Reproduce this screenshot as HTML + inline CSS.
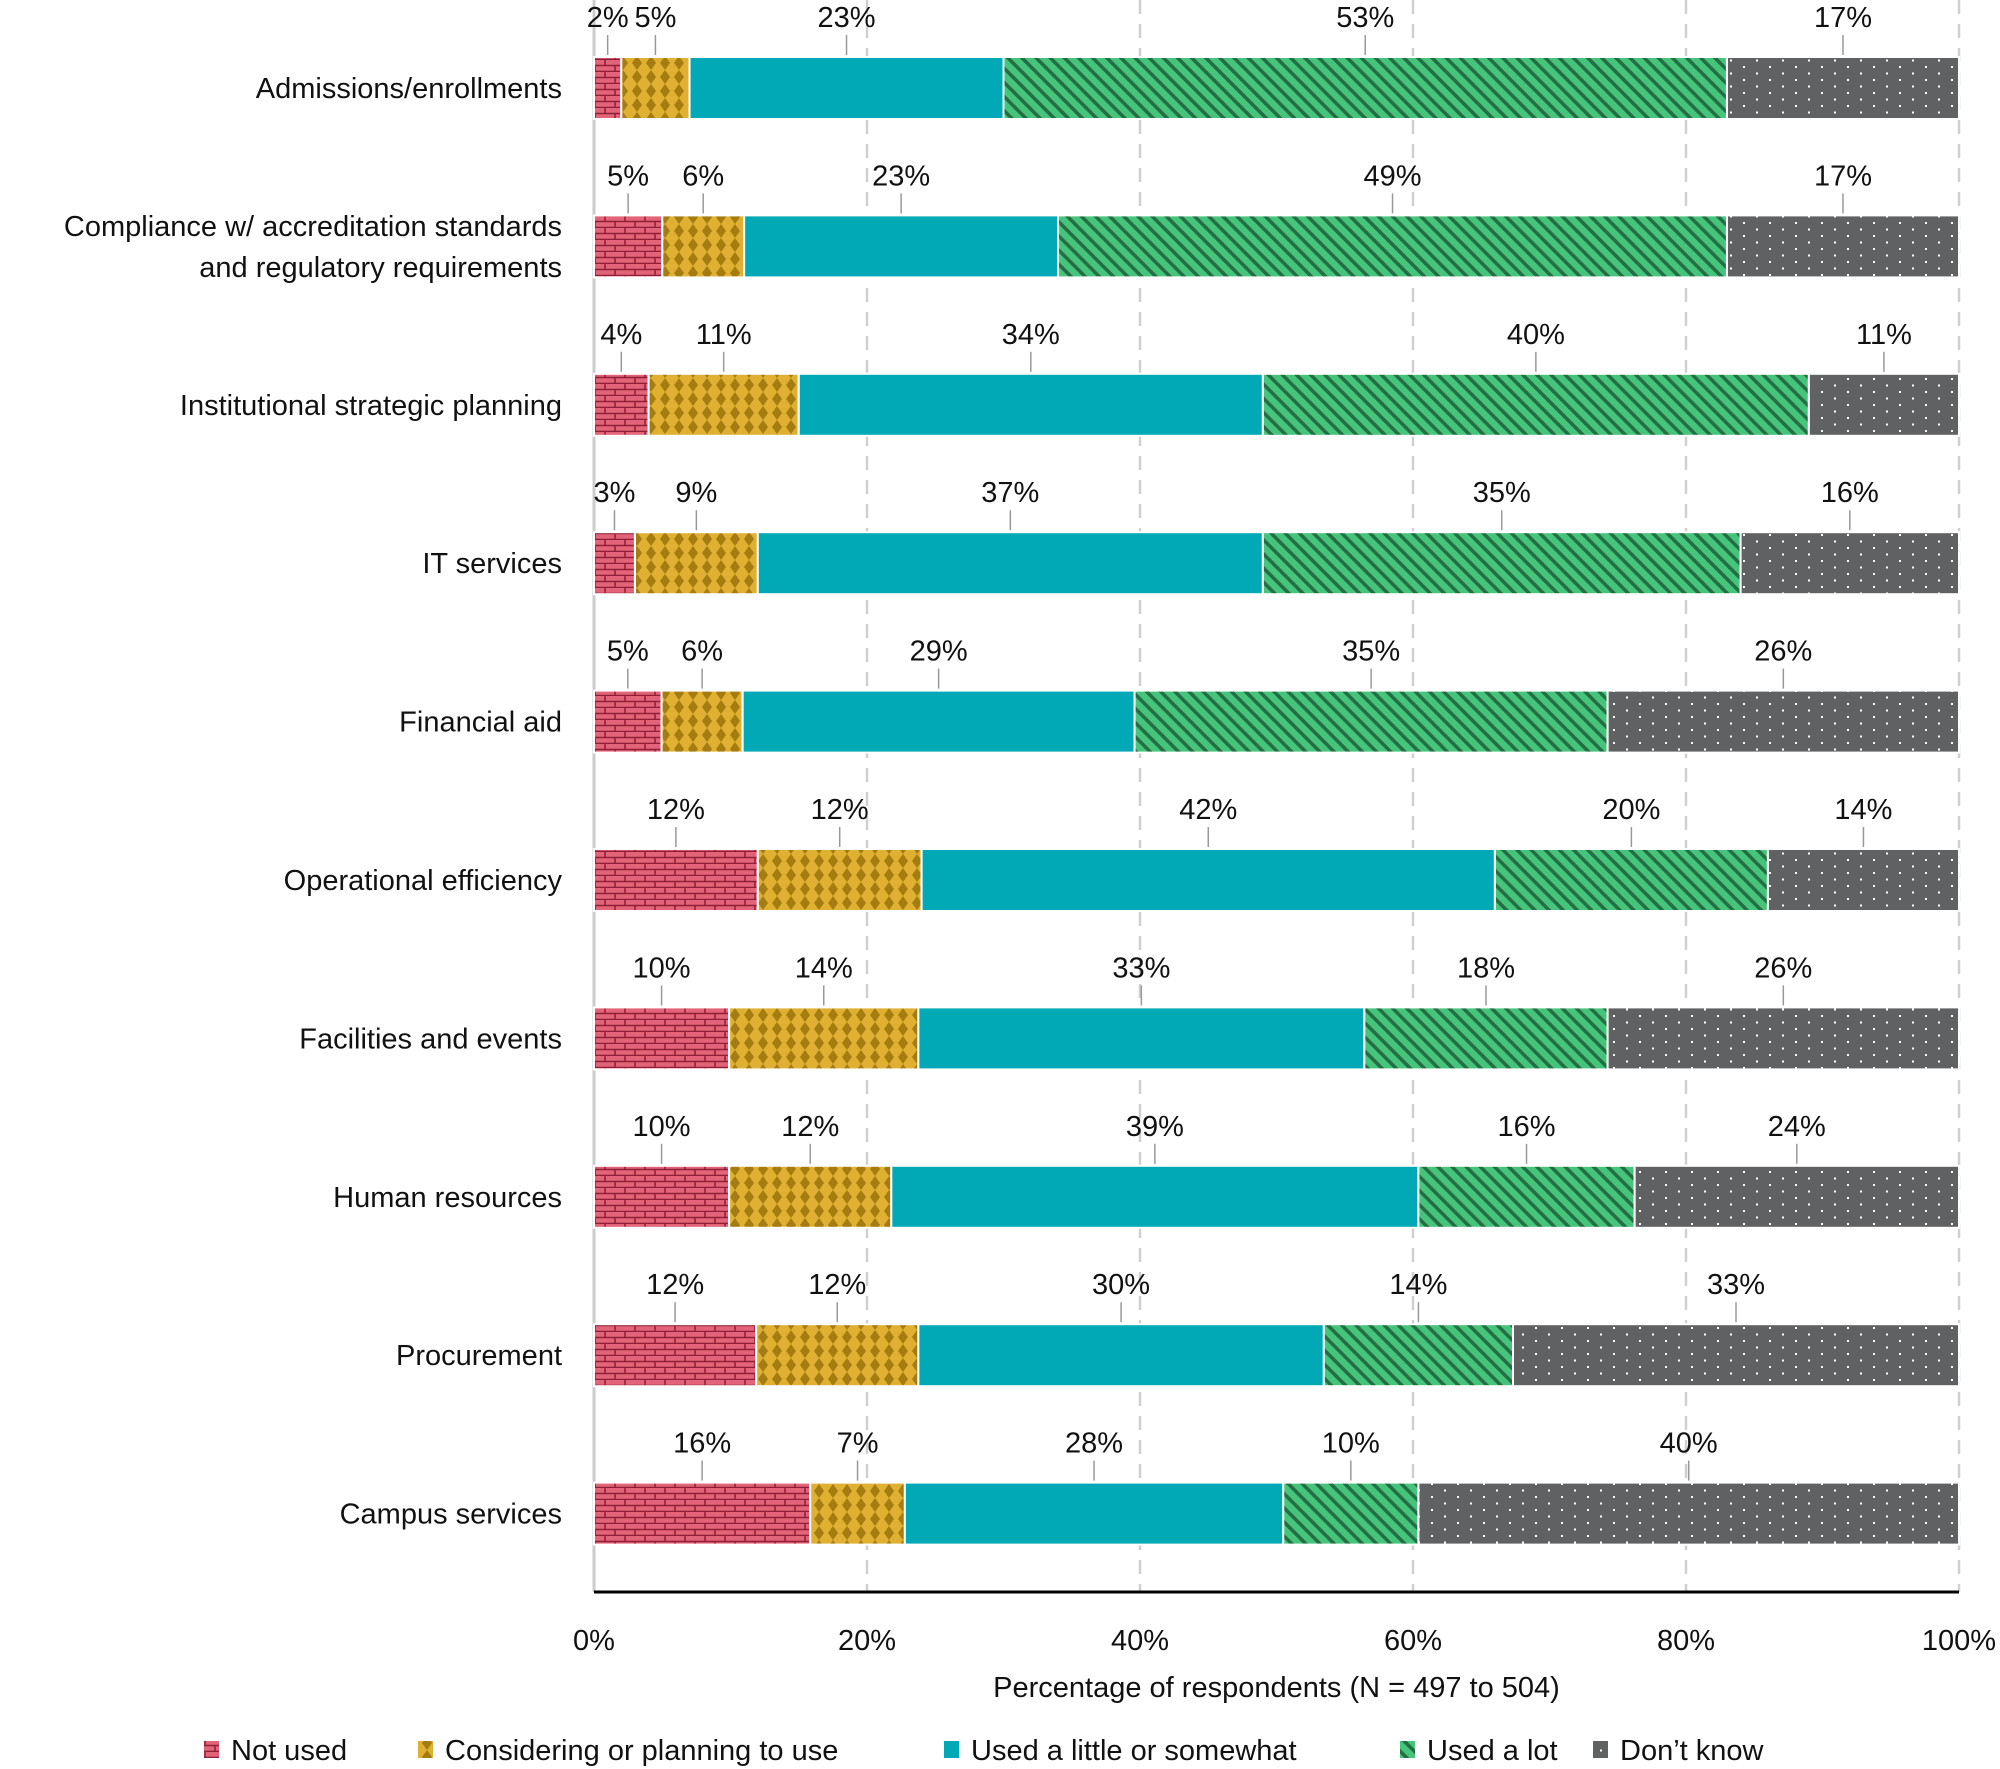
<!DOCTYPE html>
<html><head><meta charset="utf-8"><style>
html,body{margin:0;padding:0;background:#fff;}
svg{display:block;font-family:"Liberation Sans",sans-serif;}
</style></head><body>
<svg id="chart" width="2000" height="1769" viewBox="0 0 2000 1769" xmlns="http://www.w3.org/2000/svg">
<defs>
<pattern id="p0" width="20" height="12" patternUnits="userSpaceOnUse">
<rect width="20" height="12" fill="#e36379"/>
<path d="M0 5.5H20M0 11.5H20M5 0V6M15 6V12" stroke="#8e1f36" stroke-width="1.5"/>
</pattern>
<pattern id="p1" width="14" height="14" patternUnits="userSpaceOnUse">
<rect width="14" height="14" fill="#e0b032"/>
<path d="M7 0L12 7L7 14L2 7Z" fill="#a57c10"/>
</pattern>
<pattern id="p3" width="10" height="10" patternUnits="userSpaceOnUse" patternTransform="rotate(-45)">
<rect width="10" height="10" fill="#46c47c"/>
<rect width="3.5" height="10" fill="#236e42"/>
</pattern>
<pattern id="p4" width="26" height="13" patternUnits="userSpaceOnUse">
<rect width="26" height="13" fill="#606163"/>
<rect x="1" y="1" width="2" height="2" fill="#fff"/>
<rect x="14" y="7.5" width="2" height="2" fill="#fff"/>
</pattern>
</defs>
<g id="grid"></g><g id="bars"></g><g id="labels"></g>
</svg>
<script>
const categories=["Admissions/enrollments","Compliance w/ accreditation standards|and regulatory requirements","Institutional strategic planning","IT services","Financial aid","Operational efficiency","Facilities and events","Human resources","Procurement","Campus services"];
const seriesNames=["Not used","Considering or planning to use","Used a little or somewhat","Used a lot","Don\u2019t know"];
const notUsed=[2,5,4,3,5,12,10,10,12,16];
const considering=[5,6,11,9,6,12,14,12,12,7];
const usedLittle=[23,23,34,37,29,42,33,39,30,28];
const usedLot=[53,49,40,35,35,20,18,16,14,10];
const dontKnow=[17,17,11,16,26,14,26,24,33,40];
const xTicks=[0,20,40,60,80,100];
const series=[notUsed,considering,usedLittle,usedLot,dontKnow];
const fills=["url(#p0)","url(#p1)","#00a9b5","url(#p3)","url(#p4)"];
const NS="http://www.w3.org/2000/svg";
const X0=594,X1=1959,Y0=88,STEP=158.4,BH=62,AXY=1592;
const x=v=>X0+(X1-X0)*v/100;
const y=i=>Y0+STEP*i;
function mk(t,a,p){const e=document.createElementNS(NS,t);for(const k in a)e.setAttribute(k,a[k]);p.appendChild(e);return e;}
const grid=document.getElementById('grid'),bars=document.getElementById('bars'),labels=document.getElementById('labels');
xTicks.forEach(t=>{
  if(t>0){const l=mk('line',{x1:x(t),x2:x(t),y1:0,y2:AXY,stroke:'#d0d0d0','stroke-width':2.5,'stroke-dasharray':'14 10'},grid);
  
  }
  const tx=mk('text',{x:x(t),y:1650,'text-anchor':'middle','font-size':29,fill:'#111'},labels);
  tx.textContent=t+'%';
  
  
});
const ya=mk('line',{x1:X0,x2:X0,y1:0,y2:AXY,stroke:'#ccc','stroke-width':3},grid);


const xa=mk('line',{x1:X0,x2:X1,y1:AXY,y2:AXY,stroke:'#000','stroke-width':3},grid);


const at=mk('text',{x:(X0+X1)/2+0,y:1697,'text-anchor':'middle','font-size':29,fill:'#111'},labels);
at.textContent='Percentage of respondents (N = 497 to 504)';


categories.forEach((c,i)=>{
  const cy=y(i);
  const parts=c.split('|');
  parts.forEach((p,j)=>{
    const t=mk('text',{x:562,y:cy+10+(j-(parts.length-1)/2)*41,'text-anchor':'end','font-size':29,fill:'#111'},labels);
    t.textContent=p;
    
    
  });
  let tot=0;series.forEach(s=>tot+=s[i]);
  let acc=0;
  series.forEach((s,k)=>{
    const v=s[i]/tot*100;
    const xa0=x(acc),xa1=x(acc+v);
    const r=mk('rect',{x:xa0,y:cy-BH/2,width:Math.max(0,xa1-xa0),height:BH,fill:fills[k],stroke:'#fff','stroke-width':2},bars);
    
    
    const mx=(xa0+xa1)/2;
    const ll=mk('line',{x1:mx,x2:mx,y1:cy-BH/2-2,y2:cy-BH/2-22,stroke:'#999','stroke-width':1.5},labels);
    
    
    const vt=mk('text',{x:mx,y:cy-BH/2-30,'text-anchor':'middle','font-size':29,fill:'#111'},labels);
    vt.textContent=s[i]+'%';
    
    
    acc+=v;
  });
});
const legX=[204,418,944,1400,1593];
seriesNames.forEach((n,k)=>{
  const g=mk('g',{},labels);
  
  
  mk('rect',{x:legX[k],y:1741,width:15,height:17,fill:fills[k]},g);
  const t=mk('text',{x:legX[k]+27,y:1760,'font-size':29,fill:'#111'},g);
  t.textContent=n;
});
</script>
</body></html>
